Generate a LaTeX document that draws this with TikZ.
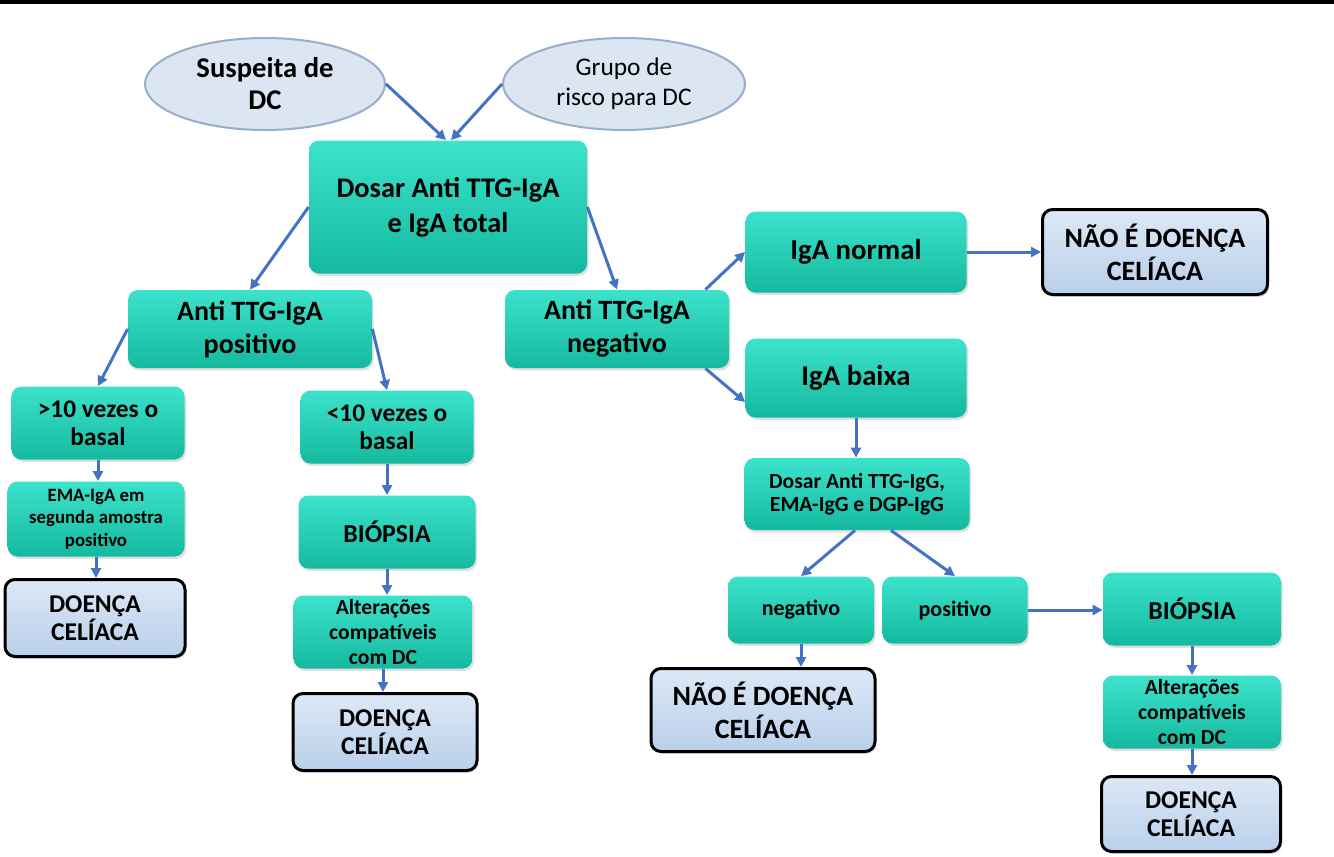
\documentclass[tikz,border=0pt]{standalone}
\usepackage{fontspec}
\setmainfont{Carlito}
\usetikzlibrary{shapes.geometric,arrows.meta,shadows}
\definecolor{tealA}{HTML}{3CE2CB}
\definecolor{tealB}{HTML}{14B99F}
\definecolor{lbA}{HTML}{DCE8F6}
\definecolor{lbB}{HTML}{B9CFEA}
\definecolor{ellF}{HTML}{DCE6F2}
\definecolor{ellD}{HTML}{97ADCC}
\definecolor{arr}{HTML}{4472C4}
\newcommand{\fs}[2]{\fontsize{#1}{#2}\selectfont}
\begin{document}
\begin{tikzpicture}[x=0.5pt,y=-0.5pt,
  tbox/.style={rectangle, rounded corners=5pt, top color=tealA, bottom color=tealB,
    align=center, inner sep=1pt, draw=none,
    drop shadow={opacity=0.25, shadow xshift=0.8pt, shadow yshift=-1.2pt}},
  lbox/.style={rectangle, rounded corners=5pt, top color=lbA, bottom color=lbB,
    draw=black, line width=1.5pt, align=center, inner sep=1pt,
    drop shadow={opacity=0.25, shadow xshift=0.8pt, shadow yshift=-1.2pt}},
  ell/.style={ellipse, fill=ellF, draw=ellD, line width=1pt, align=center, inner sep=0pt},
  conn/.style={draw=arr, line width=1.5pt, -{Triangle[length=5pt,width=5pt]}},
]
\useasboundingbox[fill=white] (0,0) rectangle (1334,857);
\fill[black] (0,0) rectangle (1334,4);

% ellipses
\node[ell, minimum width=120pt, minimum height=46pt, font=\fs{14.3}{16}\bfseries] (susp) at (265,84) {Suspeita de\\DC};
\node[ell, minimum width=121pt, minimum height=46pt, font=\fs{12.7}{15}] (grupo) at (624,84) {Grupo de\\risco para DC};

% main
\node[tbox, minimum width=139pt, minimum height=66.5pt, font=\fs{14.2}{17.5}\bfseries] (dosar) at (448,207) {Dosar Anti TTG-IgA\\e IgA total};
\node[tbox, minimum width=122pt, minimum height=39pt, font=\fs{14}{16.5}\bfseries] (pos) at (250,329) {Anti TTG-IgA\\positivo};
\node[tbox, minimum width=112pt, minimum height=39pt, font=\fs{14}{16.5}\bfseries] (neg) at (617,329) {Anti TTG-IgA\\negativo};

% right branch
\node[tbox, minimum width=110.5pt, minimum height=40.5pt, font=\fs{14.4}{16}\bfseries] (norm) at (856,252) {IgA normal};
\node[lbox, minimum width=112.5pt, minimum height=42.5pt, font=\fs{14}{16.5}\bfseries] (nao1) at (1155,252) {NÃO É DOENÇA\\CELÍACA};
\node[tbox, minimum width=110.5pt, minimum height=39.5pt, font=\fs{14.4}{16}\bfseries] (baixa) at (856,378) {IgA baixa};
\node[tbox, minimum width=112.5pt, minimum height=36pt, font=\fs{10.8}{11.5}\bfseries] (igg) at (857,494) {Dosar Anti TTG-IgG,\\EMA-IgG e DGP-IgG};
\node[tbox, minimum width=73pt, minimum height=33.5pt, font=\fs{11}{13}\bfseries] (nneg) at (801,610) {negativo};
\node[tbox, minimum width=72.5pt, minimum height=33.5pt, font=\fs{11}{13}\bfseries] (npos) at (955,610) {positivo};
\node[tbox, minimum width=89pt, minimum height=36.5pt, font=\fs{12.9}{14}\bfseries] (bio2) at (1192,609) {BIÓPSIA};
\node[lbox, minimum width=112pt, minimum height=41.5pt, font=\fs{14}{16.5}\bfseries] (nao2) at (763,710) {NÃO É DOENÇA\\CELÍACA};
\node[tbox, minimum width=89pt, minimum height=36.5pt, font=\fs{10.8}{12.5}\bfseries] (alt2) at (1192,712) {Alterações\\compatíveis\\com DC};
\node[lbox, minimum width=89.5pt, minimum height=37.5pt, font=\fs{12.8}{14}\bfseries] (doe3) at (1191,814) {DOENÇA\\CELÍACA};

% left branch
\node[tbox, minimum width=86.5pt, minimum height=36.5pt, font=\fs{12.7}{14}\bfseries] (gt) at (98,423) {>10 vezes o\\basal};
\node[tbox, minimum width=88.5pt, minimum height=37.5pt, font=\fs{9.4}{11.25}\bfseries] (ema) at (96,519) {EMA-IgA em\\segunda amostra\\positivo};
\node[lbox, minimum width=90pt, minimum height=38.5pt, font=\fs{12.8}{14}\bfseries] (doe1) at (95,618) {DOENÇA\\CELÍACA};
\node[tbox, minimum width=86.5pt, minimum height=36.5pt, font=\fs{12.7}{14}\bfseries] (lt) at (387,427) {<10 vezes o\\basal};
\node[tbox, minimum width=88.5pt, minimum height=36.5pt, font=\fs{12.9}{14}\bfseries] (bio1) at (387,532) {BIÓPSIA};
\node[tbox, minimum width=89.5pt, minimum height=36.5pt, font=\fs{10.8}{12.5}\bfseries] (alt1) at (383,632) {Alterações\\compatíveis\\com DC};
\node[lbox, minimum width=92pt, minimum height=38.5pt, font=\fs{12.8}{14}\bfseries] (doe2) at (385,732) {DOENÇA\\CELÍACA};

% connectors
\draw[conn] (susp.east) -- ([xshift=-1pt]dosar.north);
\draw[conn] (grupo.west) -- ([xshift=1.5pt]dosar.north);
\draw[conn] (dosar.west) -- (pos.north);
\draw[conn] (dosar.east) -- (neg.north);
\draw[conn] (pos.west) -- (gt.north);
\draw[conn] (pos.east) -- (lt.north);
\draw[conn] (gt.south) -- (gt.south |- ema.north);
\draw[conn] (ema.south) -- (ema.south |- doe1.north);
\draw[conn] (lt.south) -- (lt.south |- bio1.north);
\draw[conn] (bio1.south) -- (bio1.south |- alt1.north);
\draw[conn] (alt1.south) -- (alt1.south |- doe2.north);
\draw[conn] ([xshift=-12pt]neg.north east) -- (norm.west);
\draw[conn] ([xshift=-12pt]neg.south east) -- ([yshift=-12pt]baixa.west);
\draw[conn] (norm.east) -- (nao1.west);
\draw[conn] (baixa.south) -- (baixa.south |- igg.north);
\draw[conn] ([xshift=-1pt]igg.south) -- (nneg.north);
\draw[conn] ([xshift=17pt]igg.south) -- (npos.north);
\draw[conn] (npos.east) -- (npos.east -| bio2.west);
\draw[conn] (nneg.south) -- (nneg.south |- nao2.north);
\draw[conn] (bio2.south) -- (bio2.south |- alt2.north);
\draw[conn] (alt2.south) -- (alt2.south |- doe3.north);
\end{tikzpicture}
\end{document}
